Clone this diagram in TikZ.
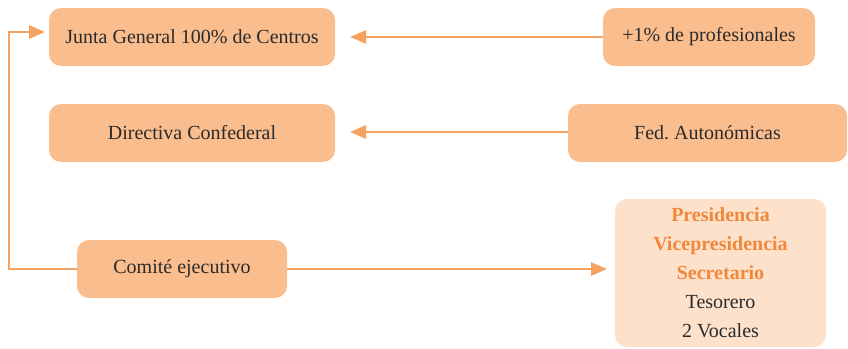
\documentclass[tikz,border=0pt]{standalone}
\usepackage{fontspec}
\setmainfont{Liberation Serif}
\usetikzlibrary{arrows.meta}
\definecolor{boxfill}{HTML}{F9BD8E}
\definecolor{panelfill}{HTML}{FDE1CB}
\definecolor{linkcol}{HTML}{F5A160}
\definecolor{accent}{HTML}{F0873A}
\definecolor{ink}{HTML}{2B2B2B}
\begin{document}
\begin{tikzpicture}[x=1pt,y=-1pt,
  orgbox/.style={fill=boxfill, rounded corners=12pt, text=ink, inner sep=0pt,
    font=\fontsize{20}{24}\selectfont},
  panel/.style={fill=panelfill, rounded corners=12pt, text=ink, inner sep=0pt,
    align=center, font=\fontsize{20}{29}\selectfont},
  link/.style={draw=linkcol, line width=2.6pt},
  linkarrow/.style={link, -{Triangle[length=16pt,width=13pt]}}]
  \useasboundingbox (0,0) rectangle (848,348);

  % governing bodies
  \node[orgbox, minimum width=286pt, minimum height=58pt] (junta) at (192,37) {Junta General 100\% de Centros};
  \node[orgbox, minimum width=286pt, minimum height=58pt] (directiva) at (192,133) {Directiva Confederal};
  \node[orgbox, minimum width=210pt, minimum height=58pt] (comite) at (182,269) {Comit\'e ejecutivo};

  % sources
  \node[orgbox, minimum width=212pt, minimum height=58pt] (prof) at (709,37) {+1\% de profesionales};
  \node[orgbox, minimum width=279pt, minimum height=58pt] (fed) at (707.5,133) {Fed.\ Auton\'omicas};

  % executive committee members
  \node[panel, minimum width=211pt, minimum height=148pt] (miembros) at (720.5,273)
    {\textcolor{accent}{\bfseries Presidencia}\\
     \textcolor{accent}{\bfseries Vicepresidencia}\\
     \textcolor{accent}{\bfseries Secretario}\\
     Tesorero\\
     2 Vocales};

  % connectors
  \coordinate (jtip) at (350,37);
  \coordinate (dtip) at (350,132);
  \coordinate (mtip) at (607,269);
  \coordinate (loop) at (9,269);
  \coordinate (looptop) at (9,32);
  \coordinate (jin) at (45,32);

  \draw[linkarrow] (prof.west) -- (jtip);
  \draw[linkarrow] (fed.west |- dtip) -- (dtip);
  \draw[linkarrow] (comite.east) -- (mtip);
  \draw[linkarrow] (comite.west) -- (loop) -- (looptop) -- (jin);
\end{tikzpicture}
\end{document}
